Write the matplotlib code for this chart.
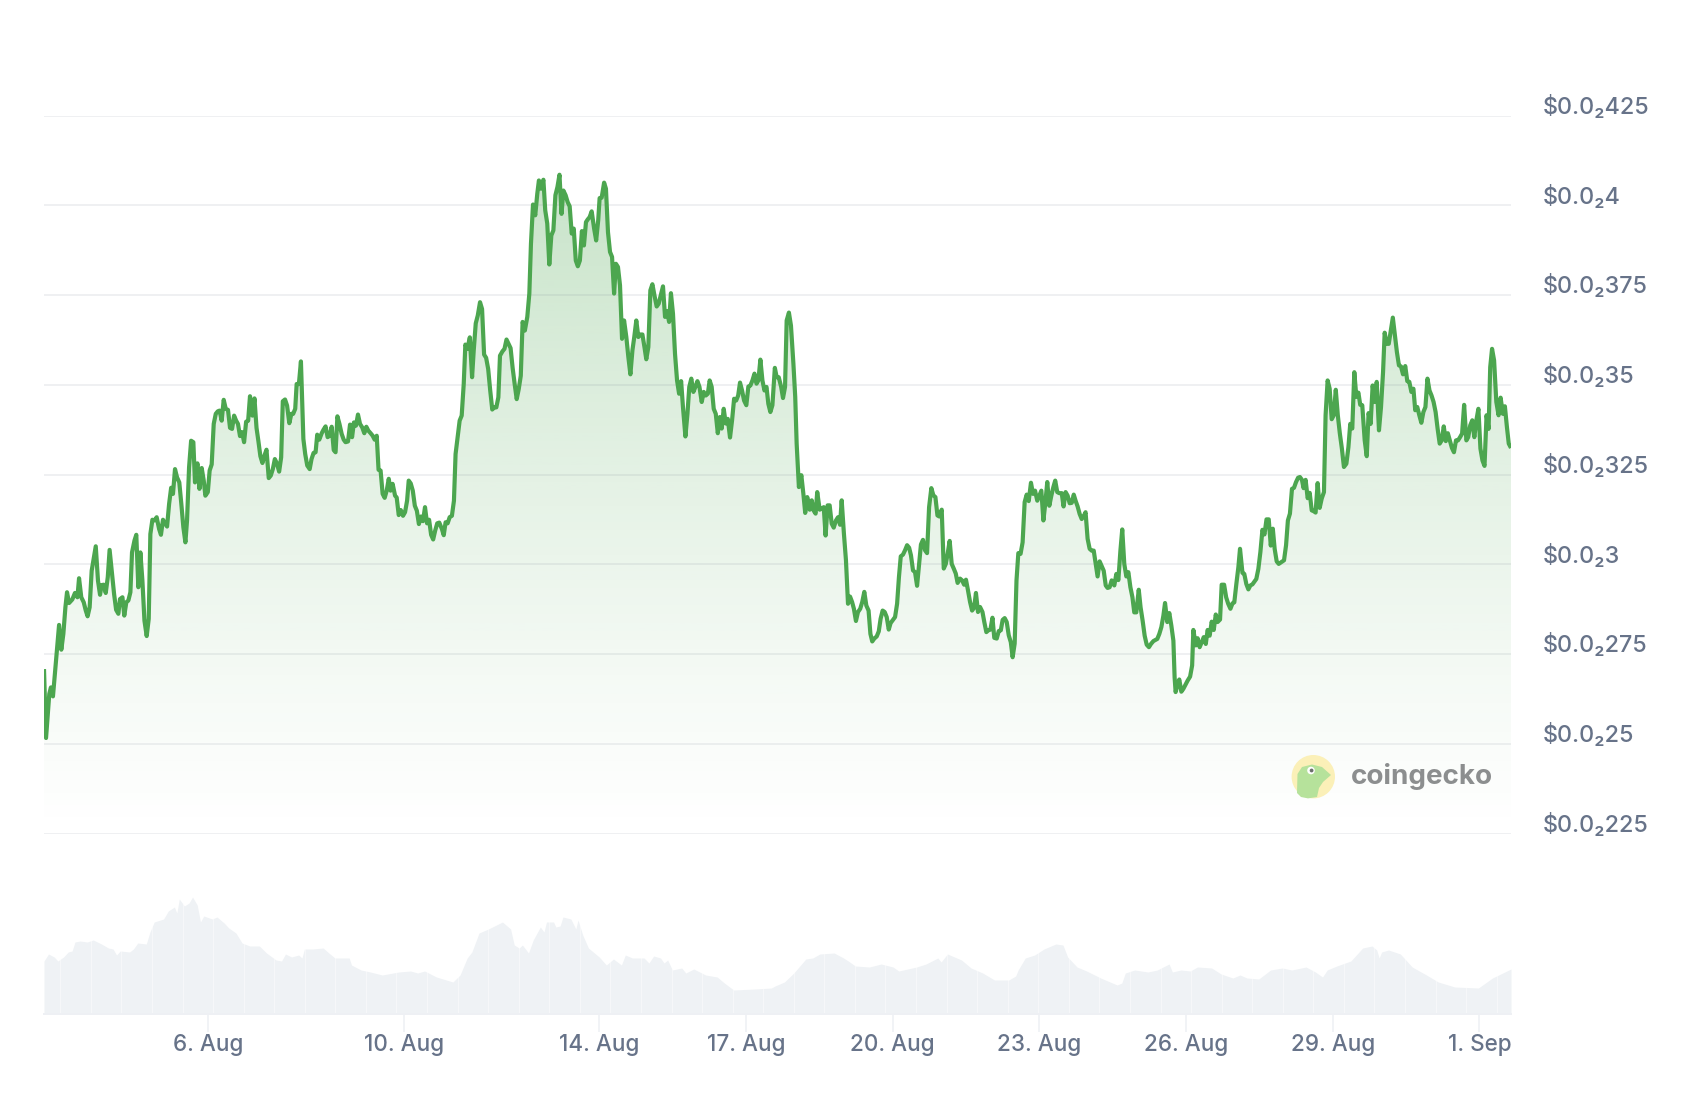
from datetime import datetime, timedelta
import numpy as np
import matplotlib
matplotlib.use("Agg")
import matplotlib.pyplot as plt
from matplotlib.patches import Circle, Polygon
from matplotlib.transforms import ScaledTranslation

# ---------- data (price in units of 0.001 USD; hours since start of window) ----------
start_time = datetime(2024, 8, 2, 15, 30)
window_hours = 720

hours = [0,1,2.6,3.4,4.4,5.6,6.5,7.4,8.5,9.5,10.5,11.3,12.3,13.9,15.2,16.4,17.2,18.3,19.5,20.5,21.4,22.4,23.4,25.4,26.5,27.5,28.3,29.3,30.3,31.3,32.2,33.4,34.4,35.4,36.5,37.3,38.5,39.4,40.4,41.4,42.4,43.2,44.4,45.3,46.3,47.3,48.3,49.3,50.4,51.4,52.2,53.2,54.3,55.3,56.5,57.4,58.4,59.4,60.4,61.4,62.4,63.3,64.3,65.3,66.4,67.4,68.4,69.4,70.2,71.2,72.2,73.3,74.1,75.3,76.3,77.4,78.4,79.2,80.4,81.3,82.3,83.3,84.3,85.3,86.2,87.2,88.2,89.2,90.3,91.3,92.3,93.3,94.3,95.2,96.2,97.2,98.2,99.2,100.2,101.1,102.3,103.3,104.3,105.2,106.2,107.2,108.2,109.2,110.3,111.3,112.3,113.3,114.3,115.4,116.4,117.2,118.3,119.3,
120.4,121.4,122.3,123.3,124,125.1,126.1,127.3,128.2,129.2,130.4,131.3,132.3,133.3,134.1,135.1,136.3,137.2,138.2,139.2,140.2,141.2,142.2,143.1,144,145,146.1,147.1,148,149.2,150.2,151.2,152.1,153.1,154.1,155.1,156.2,157.2,158.2,159.2,160.3,161.3,162.3,163.3,164.2,165.2,166.2,167.2,168.2,169.2,170.1,171.1,172.3,173.1,174.1,175.1,176.2,177.2,178.2,179,180,181,182,183,184,185,186,187,188,189,190,191,192,193,194,195.3,196.2,197.1,198.1,199.1,200.2,201.2,202,203,204,205,206,206.8,207.8,209,210.1,210.9,211.9,212.9,214,215,216,217,218,219,220,221,222,223,223.8,225,226,227,228,229,230,231,232,233,234,
234.9,236,237.2,238.2,239,240,241.1,242.1,242.9,243.9,245.1,246,247,248,249,250,251,252,253,254,254.9,256,257,258,259,260,261,262,263,264,265,266,266.8,267.8,268.8,270,271,272,272.7,273.7,274.9,275.8,276.8,277.8,278.8,279.8,280.7,281.7,282.7,283.7,284.7,285.8,286.8,287.8,288.8,289.7,290.7,291.7,292.7,293.7,294.7,295.6,296.6,297.6,298.6,299.6,300.7,301.7,302.7,303.8,304.8,305.8,306.8,307.7,308.7,309.7,310.7,311.7,312.7,313.6,314.8,315.8,316.7,317.7,318.7,319.7,320.7,321.7,322.8,323.8,324.8,325.8,326.7,327.7,328.7,329.7,330.7,331.7,332.6,333.6,334.6,335.6,336.7,337.7,338.7,339.7,340.7,341.6,342.6,343.6,344.7,345.7,346.7,347.7,348.7,349.7,350.6,351.6,352.6,353.6,354.6,355.5,356.5,357.5,358.7,359.6,360.6,361.8,362.7,363.7,
364.5,365.6,366.6,367.8,368.7,369.4,370.5,371.7,372.7,373.6,374.6,375.8,376.8,377.7,378.7,379.5,380.7,381.7,382.7,383.6,384.6,385.6,386.6,387.6,388.7,389.7,390.7,391.5,392.6,393.6,394.6,395.6,396.6,397.5,398.5,399.5,400.6,401.6,402.6,403.6,404.7,405.6,406.5,407.5,408.7,409.7,410.6,411.6,412.6,413.6,414.6,415.5,416.7,417.7,418.7,419.6,420.5,421.6,422.6,423.6,424.6,425.5,426.5,427.5,428.5,429.5,430.4,431.4,432.4,433.4,434.4,435.5,436.5,437.5,438.5,439.4,440.6,441.6,442.6,443.5,444.5,445.5,446.5,447.5,448.4,449.6,450.6,451.6,452.5,453.5,454.5,455.5,456.5,457.4,458.4,459.4,460.6,461.5,462.5,463.5,464.5,465.5,466.4,467.6,468.6,469.6,470.5,471.5,472.5,473.5,474.5,475.4,476.4,477.3,478.2,
479.3,480.3,481.3,482.3,483.3,484.4,485.4,486.4,487.5,488.5,489.5,490.5,491.4,492.4,493.4,494.4,495.4,496.3,497.3,498.3,499.5,500.4,501.4,502.4,503.4,504.4,505.4,506.3,507.3,508.3,509.3,510.3,511.2,512.2,513.2,514.2,515.2,516.2,517.1,518.1,519.1,520.1,521.1,522,523,524,525.3,526.3,527.3,528.3,529.2,530.2,531.2,532.2,533.2,534.2,535.1,536.1,537.3,538.2,539.2,540.2,541.2,542.3,543.3,544.5,545.4,546.4,547.4,548.4,549.4,550.2,551.3,552.3,553.3,554.3,554.9,555.4,556.4,557.2,558.2,559.2,560.2,561.3,562.5,563.5,564.1,565.3,566.2,567.2,568.2,569.2,570.2,571.1,572.1,573.1,574.1,575.1,576,577.2,578,579.2,580.2,581.2,582.3,583.3,584.2,585.2,586.2,587,588.2,589.1,590.1,591.1,592.1,593.1,594.1,595,596,597,598,599,600,601.1,602.1,603.1,604,605,606,
608.6,609.6,610.5,611.5,612.5,613.5,614.5,615.5,616.4,617.4,618.2,619.2,620.2,621.2,622.2,623.1,624.1,625.1,626.1,627.1,628.2,629,630,631,632,633,634,635,636,637,638,639.2,640.2,641.1,642.1,643.1,644.1,645.1,646,647,648.2,649.2,650.1,651.1,652.1,653.1,654.1,655.2,656.2,657.2,658,659,660,661,662,663.1,664,665,666,667,668.1,669.1,670.1,671.1,672.1,673,674,675,676,677,678,679,680,681,682,683,684,685,686,687,688,689,690,691,692,693,694,695,696,697,698.1,699,700,701,702,703,704,705,706,707,708,709,709.8,710.7,711.7,712.8,713.9,714.9,716,717,718,718.9,720]

price = [2.708,2.516,2.639,2.657,2.632,2.713,2.773,2.831,2.762,2.806,2.880,2.922,2.892,2.902,2.920,2.908,2.961,2.908,2.894,2.871,2.855,2.880,2.982,3.050,2.954,2.915,2.942,2.943,2.920,2.964,3.040,2.973,2.917,2.873,2.862,2.903,2.908,2.857,2.894,2.899,2.922,3.033,3.066,3.082,2.936,3.033,2.954,2.843,2.800,2.848,3.084,3.124,3.122,3.131,3.098,3.082,3.124,3.114,3.105,3.168,3.213,3.196,3.265,3.242,3.228,3.168,3.103,3.061,3.122,3.270,3.344,3.340,3.228,3.281,3.210,3.268,3.233,3.191,3.201,3.261,3.278,3.391,3.419,3.426,3.428,3.400,3.458,3.433,3.430,3.380,3.377,3.414,3.400,3.391,3.357,3.368,3.340,3.397,3.400,3.468,3.414,3.462,3.380,3.344,3.301,3.282,3.303,3.319,3.240,3.247,3.265,3.293,3.281,3.258,3.298,3.454,3.459,3.442,
3.393,3.419,3.419,3.433,3.502,3.502,3.565,3.349,3.307,3.275,3.265,3.293,3.310,3.312,3.361,3.347,3.365,3.375,3.384,3.354,3.358,3.383,3.318,3.312,3.412,3.391,3.363,3.347,3.340,3.342,3.389,3.354,3.395,3.386,3.417,3.391,3.381,3.365,3.383,3.372,3.365,3.358,3.347,3.358,3.263,3.261,3.196,3.185,3.205,3.238,3.205,3.224,3.191,3.186,3.137,3.151,3.135,3.145,3.177,3.233,3.225,3.205,3.163,3.149,3.112,3.133,3.120,3.159,3.114,3.124,3.082,3.069,3.094,3.114,3.116,3.098,3.081,3.117,3.114,3.131,3.135,3.177,3.307,3.354,3.400,3.414,3.502,3.612,3.600,3.632,3.521,3.595,3.671,3.693,3.730,3.711,3.584,3.575,3.544,3.484,3.431,3.437,3.437,3.465,3.581,3.593,3.600,3.626,3.614,3.602,3.547,3.502,3.460,3.488,3.525,
3.675,3.651,3.689,3.754,3.893,4.002,3.972,4.032,4.069,4.046,4.071,3.986,3.949,3.835,3.916,3.930,4.028,4.051,4.085,3.976,4.041,4.028,4.009,3.997,3.921,3.935,3.846,3.830,3.846,3.928,3.888,3.953,3.960,3.967,3.983,3.935,3.902,3.958,4.020,4.021,4.063,4.046,3.925,3.870,3.856,3.754,3.837,3.828,3.777,3.628,3.679,3.633,3.577,3.529,3.596,3.633,3.679,3.633,3.640,3.640,3.605,3.571,3.605,3.763,3.780,3.749,3.718,3.726,3.749,3.774,3.689,3.705,3.675,3.755,3.698,3.586,3.512,3.475,3.510,3.438,3.356,3.419,3.494,3.517,3.480,3.494,3.510,3.494,3.452,3.480,3.470,3.475,3.512,3.494,3.433,3.419,3.365,3.410,3.378,3.433,3.392,3.405,3.353,3.401,3.461,3.456,3.470,3.506,3.484,3.456,3.443,3.495,3.498,3.512,3.531,3.503,3.512,3.570,3.512,3.484,3.494,3.447,3.424,3.443,3.547,3.521,3.521,3.494,3.463,3.494,
3.679,3.701,3.665,3.559,3.466,3.336,3.215,3.248,3.196,3.143,3.187,3.152,3.178,3.150,3.141,3.201,3.152,3.155,3.159,3.080,3.164,3.164,3.113,3.102,3.122,3.131,3.110,3.178,3.085,3.011,2.890,2.910,2.895,2.876,2.842,2.867,2.876,2.895,2.923,2.885,2.871,2.806,2.785,2.793,2.799,2.813,2.848,2.871,2.867,2.853,2.818,2.836,2.845,2.853,2.890,2.964,3.022,3.027,3.039,3.053,3.046,3.025,2.983,2.978,2.940,3.001,3.055,3.068,3.039,3.031,3.159,3.212,3.192,3.187,3.136,3.133,3.152,2.988,3.001,3.029,3.065,3.001,2.988,2.974,2.948,2.960,2.955,2.943,2.957,2.927,2.895,2.871,2.879,2.920,2.867,2.881,2.867,2.839,2.811,2.816,2.818,2.851,2.795,2.793,2.814,2.816,2.845,2.850,2.839,2.802,2.783,2.741,2.779,2.955,3.031,
3.029,3.061,3.173,3.194,3.176,3.227,3.196,3.205,3.177,3.191,3.205,3.122,3.168,3.229,3.163,3.191,3.215,3.233,3.201,3.198,3.198,3.161,3.201,3.191,3.170,3.171,3.194,3.177,3.161,3.140,3.126,3.134,3.145,3.071,3.043,3.038,3.038,3.001,2.966,3.008,2.995,2.982,2.941,2.934,2.936,2.955,2.941,2.973,2.956,3.038,3.097,3.001,2.966,2.978,2.936,2.908,2.866,2.866,2.929,2.880,2.843,2.801,2.776,2.769,2.778,2.786,2.789,2.792,2.806,2.825,2.857,2.892,2.839,2.864,2.829,2.787,2.685,2.644,2.667,2.679,2.645,2.653,2.664,2.676,2.687,2.718,2.817,2.774,2.794,2.769,2.783,2.797,2.778,2.817,2.801,2.840,2.817,2.860,2.839,2.846,2.943,2.943,2.908,2.890,2.876,2.891,2.894,2.945,2.992,3.043,2.976,2.973,2.945,2.930,2.941,2.944,2.952,2.959,2.987,3.034,3.096,3.083,3.125,3.125,3.052,3.099,3.043,3.008,3.001,
3.011,3.053,3.122,3.141,3.210,3.213,3.229,3.241,3.243,3.235,3.212,3.235,3.184,3.199,3.150,3.148,3.144,3.226,3.157,3.183,3.201,3.415,3.512,3.489,3.404,3.415,3.486,3.415,3.364,3.322,3.271,3.280,3.326,3.391,3.378,3.535,3.466,3.478,3.444,3.443,3.345,3.301,3.421,3.391,3.498,3.452,3.508,3.373,3.438,3.535,3.645,3.614,3.614,3.651,3.687,3.633,3.591,3.554,3.551,3.529,3.552,3.510,3.508,3.480,3.489,3.429,3.438,3.415,3.394,3.424,3.438,3.517,3.484,3.470,3.452,3.424,3.377,3.336,3.345,3.384,3.343,3.365,3.345,3.324,3.312,3.345,3.345,3.354,3.364,3.444,3.345,3.354,3.387,3.401,3.354,3.401,3.433,3.322,3.289,3.274,3.415,3.377,3.549,3.600,3.568,3.452,3.415,3.464,3.419,3.440,3.382,3.336,3.324]

# volume in arbitrary relative units
volume_hours = [0,2.2,5,6.8,9.6,11.9,13.8,15.2,17.7,21.2,24.2,28.2,31.6,33.9,35.6,37.4,42,43.9,46,50.2,52,54.1,58.7,61,64,65.2,66.4,68.9,71.2,72.9,75.2,76.8,78.4,82.6,84.9,88.4,90.7,94.2,97.2,101,105.7,109.2,113.9,116.6,118.5,121.5,125,126.6,127.8,131.9,137,139.8,142.8,149.8,150.9,155.6,160.2,166,174.1,179.9,183.4,186.8,192.6,200.7,204.2,207.7,210,213.5,218.1,225,229,230.8,233.2,234.8,237.8,240.1,243.6,245.4,246.6,250.1,251.2,253.3,254.7,258.6,261,262.1,264.4,267.2,272.5,276,279.5,283.4,285.3,288.8,294.5,296.9,299.2,302.6,304.3,306.1,308.4,313,315,318.9,324.7,330.4,333.9,338.5,349,357,
358.8,363.4,368,373.9,377.3,380.8,387.8,392.4,394.7,398.2,405.1,410.9,416.7,419.5,428.3,432.9,438.7,440.3,443.4,450.3,455,460.7,466.5,473.5,476.9,478.1,481.6,486.2,490.8,496.6,500.1,502.4,507,511.7,518.6,526.7,529,530.7,535.3,541.8,546.4,552.2,553.8,558,562.6,566.1,573.1,577.7,583.5,587,590.4,596.2,602,607.8,612.4,619.4,624,627.5,629.8,634.5,641.4,647.2,651.8,654.1,655.3,656.5,659.9,665.7,671.5,678.5,684.3,692.4,704,710.9,720]
volume = [53,60,57,53,57,62,63,72,73,72,74,70,66,65,59,63,62,65,71,70,82,92,95,103,107,101,115,108,111,117,109,92,98,95,97,91,86,81,71,68,68,61,54,53,60,57,59,56,65,65,66,61,56,56,49,44,42,39,42,43,41,43,37,32,39,56,62,81,85,92,85,69,66,69,61,74,87,82,92,92,87,88,97,95,85,94,79,66,57,49,55,49,59,56,56,51,58,56,51,54,44,46,41,45,39,37,31,24,25,26,
28,32,41,55,56,60,61,56,53,48,47,50,47,43,47,50,56,52,60,54,46,41,34,34,38,44,56,59,65,70,69,57,47,43,36,29,31,41,44,42,44,50,42,44,43,47,46,40,36,39,36,35,44,46,44,47,42,37,44,48,53,66,68,64,56,62,64,60,47,39,32,27,26,36,45]

y_ticks = [2.25, 2.5, 2.75, 3.0, 3.25, 3.5, 3.75, 4.0, 4.25]
y_labels = ["$0.0₂225", "$0.0₂25", "$0.0₂275", "$0.0₂3", "$0.0₂325",
            "$0.0₂35", "$0.0₂375", "$0.0₂4", "$0.0₂425"]
x_tick_dates = [datetime(2024,8,6), datetime(2024,8,10), datetime(2024,8,14),
                datetime(2024,8,17), datetime(2024,8,20), datetime(2024,8,23),
                datetime(2024,8,26), datetime(2024,8,29), datetime(2024,9,1)]
x_labels = ["6. Aug", "10. Aug", "14. Aug", "17. Aug", "20. Aug",
            "23. Aug", "26. Aug", "29. Aug", "1. Sep"]

# ---------- styling ----------
W, H = 1684, 1096
plt.rcParams["font.family"] = ["Inter", "Noto Sans", "DejaVu Sans"]
LINE = "#4CA64F"
TEXT = "#677389"
VOL = "#EFF2F5"

to_time = lambda hs: [start_time + timedelta(hours=float(h)) for h in hs]
t_price = to_time(hours)
t_vol = to_time(volume_hours)
t0, t1 = start_time, start_time + timedelta(hours=window_hours)

def box(l, t, r, b):
    return [l / W, 1 - b / H, (r - l) / W, (b - t) / H]

fig = plt.figure(figsize=(W / 100, H / 100), dpi=100, facecolor="white")

# price panel
ax = fig.add_axes(box(44, 115.5, 1511, 833.5))
ax.set_xlim(t0, t1)
ax.set_ylim(2.25, 4.25)
ax.patch.set_alpha(0)
for s in ax.spines.values():
    s.set_visible(False)

grad = np.linspace(0, 1, 256).reshape(-1, 1)
rgba = np.zeros((256, 1, 4))
rgba[..., 0] = 76 / 255; rgba[..., 1] = 166 / 255; rgba[..., 2] = 79 / 255
rgba[..., 3] = (0.31 * grad ** 1.15)
im = ax.imshow(rgba, origin="lower", aspect="auto", zorder=1,
               extent=[matplotlib.dates.date2num(t0), matplotlib.dates.date2num(t1), 2.25, 4.10])
ax.set_xlim(t0, t1)
ax.set_ylim(2.25, 4.25)
poly = ax.fill_between(t_price, price, 2.25, color="none")
im.set_clip_path(poly.get_paths()[0], transform=ax.transData)

ax.set_yticks(y_ticks)
ax.set_yticklabels(y_labels)
ax.yaxis.tick_right()
ax.tick_params(axis="y", length=0, pad=22.7, labelsize=16.8, labelcolor=TEXT)
label_shift = ScaledTranslation(0, -3.4 / 100, fig.dpi_scale_trans)
for tick in ax.yaxis.get_major_ticks():
    tick.label2.set_va("bottom")
    tick.label2.set_parse_math(False)
    tick.label2.set_fontweight("medium")
    tick.label2.set_transform(tick.label2.get_transform() + label_shift)
ax.set_xticks([])
ax.yaxis.grid(True, color="#6E7A8A", alpha=0.12, lw=1.25, zorder=2)
ax.set_axisbelow(False)
for gl in ax.yaxis.get_gridlines():
    gl.set_zorder(2)
ax.plot(t_price, price, color=LINE, lw=3.0, solid_joinstyle="round",
        solid_capstyle="butt", zorder=3, clip_on=True)

# volume panel
axv = fig.add_axes(box(44, 850, 1511, 1014))
axv.set_xlim(t0, t1)
axv.set_ylim(0, 164)
axv.patch.set_alpha(0)
for s in ["top", "left", "right"]:
    axv.spines[s].set_visible(False)
axv.spines["bottom"].set_color("#EEF0F4")
axv.spines["bottom"].set_linewidth(1.4)
axv.fill_between(t_vol, volume, 0, color=VOL, lw=0, zorder=1)
stripes = [start_time + timedelta(hours=float(h)) for h in np.arange(8, 720, 15)]
axv.vlines(stripes, 0, 125, color="white", lw=0.6, alpha=0.55, zorder=2)
axv.set_yticks([])
axv.set_xticks(x_tick_dates)
axv.set_xticklabels(x_labels)
axv.tick_params(axis="x", length=13, width=1.1, color="#EEF0F4", pad=1.5,
                labelsize=16.2, labelcolor=TEXT)
for lbl in axv.get_xticklabels():
    lbl.set_fontweight("medium")

# watermark
ov = fig.add_axes([0, 0, 1, 1])
ov.set_xlim(0, W)
ov.set_ylim(H, 0)
ov.axis("off")
ov.patch.set_alpha(0)
ov.add_patch(Circle((1313.3, 776.7), 21.7, fc="#FBF0B8", ec="none", zorder=5))
ov.add_patch(Polygon([(1297, 793), (1297.5, 774), (1302, 767), (1312, 764.5), (1322, 767),
                      (1331, 775), (1323, 782), (1319, 788), (1317, 797), (1308, 798.4), (1301, 797)],
                     closed=True, fc="#B6E29B", ec="none", zorder=6))
ov.add_patch(Circle((1311, 770.5), 3.8, fc="white", ec="none", zorder=7))
ov.add_patch(Circle((1311.6, 770.5), 1.9, fc="#6b6f6b", ec="none", zorder=8))
ov.text(1351, 776, "coingecko", fontsize=20.0, fontweight="bold", color="#8C8E8F",
        family=["Inter", "DejaVu Sans"], ha="left", va="center", zorder=9)

fig.savefig("out.png", dpi=100, facecolor="white")
